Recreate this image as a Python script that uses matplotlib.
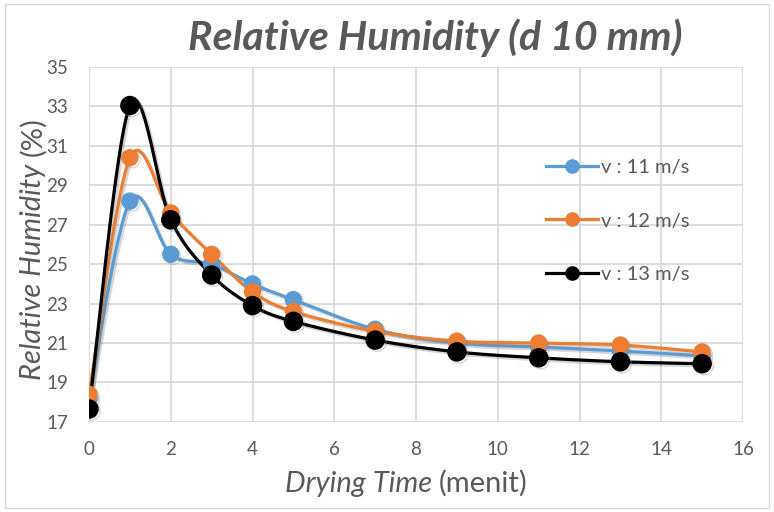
import numpy as np
import matplotlib
matplotlib.use("Agg")
import matplotlib.pyplot as plt
import matplotlib.patheffects as pe
from matplotlib.patches import Rectangle

plt.rcParams['font.family'] = ['Lato', 'DejaVu Sans']

# data
time = [0, 1, 2, 3, 4, 5, 7, 9, 11, 13, 15]
rh_11 = [18.2, 28.2, 25.5, 25.0, 24.0, 23.2, 21.7, 21.0, 20.8, 20.6, 20.35]
rh_12 = [18.4, 30.4, 27.6, 25.5, 23.6, 22.6, 21.6, 21.1, 21.0, 20.9, 20.55]
rh_13 = [17.65, 33.05, 27.25, 24.45, 22.9, 22.1, 21.15, 20.55, 20.25, 20.05, 19.95]
labels = ['v : 11 m/s', 'v : 12 m/s', 'v : 13 m/s']
colors = ['#5B9BD5', '#ED7D31', '#000000']
x_ticks = [0, 2, 4, 6, 8, 10, 12, 14, 16]
y_ticks = [17, 19, 21, 23, 25, 27, 29, 31, 33, 35]

grey = '#595959'


def smooth(ax, xs, ys, n=30):
    # excel-like smoothed line: catmull-rom in screen space
    pts = ax.transData.transform(np.column_stack([xs, ys]))
    p = np.vstack([pts[0], pts, pts[-1]])
    out = []
    for i in range(1, len(p) - 2):
        p0, p1, p2, p3 = p[i - 1], p[i], p[i + 1], p[i + 2]
        c1 = p1 + (p2 - p0) / 6
        c2 = p2 - (p3 - p1) / 6
        t = np.linspace(0, 1, n)[:, None]
        seg = ((1 - t) ** 3) * p1 + 3 * ((1 - t) ** 2) * t * c1 + 3 * (1 - t) * t ** 2 * c2 + t ** 3 * p2
        out.append(seg)
    out = np.vstack(out)
    d = ax.transData.inverted().transform(out)
    return d[:, 0], d[:, 1]


fig = plt.figure(figsize=(7.74, 5.12), dpi=100)
ax = fig.add_axes([0.115, 0.176, 0.845, 0.693])
ax.set_xlim(0, 16)
ax.set_ylim(17, 35)
ax.set_xticks(x_ticks)
ax.set_yticks(y_ticks)
ax.grid(True, color='#d9d9d9', linewidth=1.3)
ax.set_axisbelow(True)
for s in ax.spines.values():
    s.set_visible(False)
ax.tick_params(axis='x', length=0, labelsize=13.5, colors=grey, pad=14)
ax.tick_params(axis='y', length=0, labelsize=13.5, colors=grey, pad=15)

shadow = [pe.SimpleLineShadow(offset=(1.5, -1.5), shadow_color='#888888', alpha=0.35), pe.Normal()]
sizes = [11.5, 11.5, 13]
handles = []
for ys, c, lab, ms in zip([rh_11, rh_12, rh_13], colors, labels, sizes):
    sx, sy = smooth(ax, time, ys)
    ax.plot(sx, sy, color=c, linewidth=2.3, path_effects=shadow, zorder=3)
    ax.plot(time, ys, linestyle='none', marker='o', markersize=ms, color=c,
            path_effects=shadow, zorder=4)
    h, = ax.plot([], [], color=c, linewidth=2.3, marker='o', markersize=9.5)
    handles.append(h)

leg = fig.legend(handles, labels, loc='upper left', bbox_to_anchor=(0.692, 0.709),
                 frameon=False, fontsize=14.5, labelspacing=1.8, handlelength=2.6,
                 handletextpad=0.15, borderpad=0)
for t in leg.get_texts():
    t.set_color(grey)

fig.text(0.562, 0.926, 'Relative Humidity (d 10 mm)', ha='center', va='center',
         fontsize=29.5, fontweight='bold', fontstyle='italic', color=grey)

# x label, mixed style
r = fig.canvas.get_renderer()
t1 = fig.text(0.368, 0.039, 'Drying Time', ha='left', va='baseline',
              fontsize=21, fontstyle='italic', color=grey)
w = t1.get_window_extent(r).width / fig.bbox.width
fig.text(0.368 + w + 0.009, 0.039, '(menit)', ha='left', va='baseline', fontsize=21, color=grey)

# y label, mixed style
t2 = fig.text(0.053, 0.258, 'Relative Humidity', rotation=90, rotation_mode='anchor',
              ha='left', va='baseline', fontsize=21, fontstyle='italic', color=grey)
hgt = t2.get_window_extent(r).height / fig.bbox.height
fig.text(0.053, 0.258 + hgt + 0.014, '(%)', rotation=90, rotation_mode='anchor',
         ha='left', va='baseline', fontsize=21, color=grey)

fig.patches.append(Rectangle((0.006, 0.008), 0.988, 0.984, transform=fig.transFigure,
                             fill=False, edgecolor='#d9d9d9', linewidth=1))

fig.savefig('out.png', dpi=100)
